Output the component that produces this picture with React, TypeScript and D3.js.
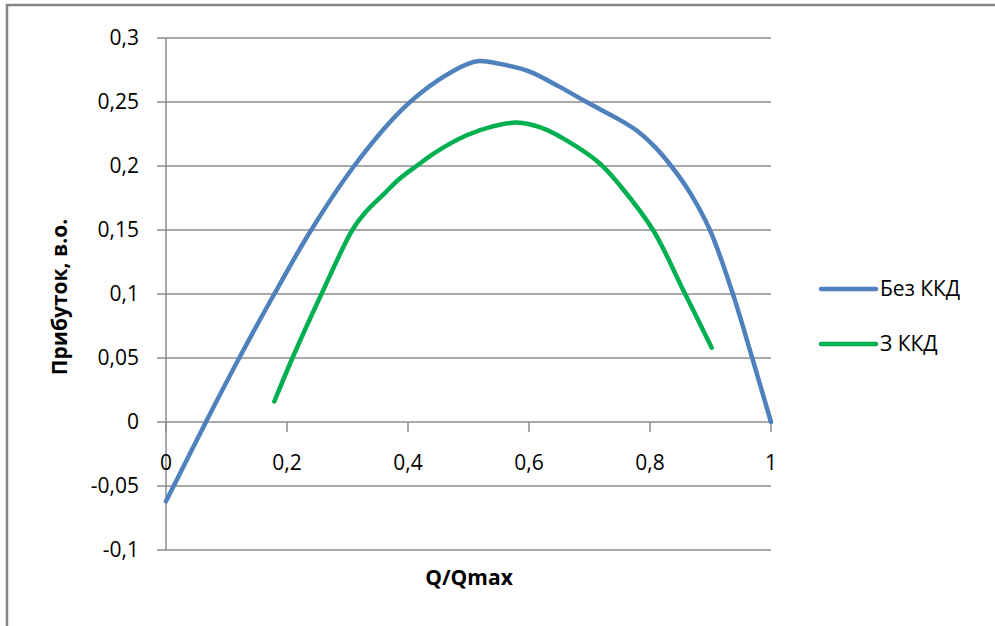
import React from "react";
import * as d3 from "d3";

const yTicks = [-0.1, -0.05, 0, 0.05, 0.1, 0.15, 0.2, 0.25, 0.3];
const yTickLabels = ["-0,1", "-0,05", "0", "0,05", "0,1", "0,15", "0,2", "0,25", "0,3"];
const xTicks = [0, 0.2, 0.4, 0.6, 0.8, 1];
const xTickLabels = ["0", "0,2", "0,4", "0,6", "0,8", "1"];

const seriesNames = ["Без ККД", "З ККД"];
const seriesColors = ["#4F81BD", "#00B050"];

const blueX = [0, 0.066, 0.121, 0.179, 0.24, 0.311, 0.39, 0.45, 0.5, 0.518, 0.55, 0.6, 0.65, 0.695, 0.75, 0.78, 0.81, 0.835, 0.865, 0.899, 0.937, 0.969, 1.0];
const blueY = [-0.062, 0, 0.05, 0.1, 0.15, 0.2, 0.244, 0.267, 0.28, 0.282, 0.28, 0.274, 0.262, 0.25, 0.236, 0.227, 0.214, 0.2, 0.18, 0.15, 0.1, 0.05, 0];

const greenX = [0.179, 0.209, 0.257, 0.308, 0.33, 0.36, 0.386, 0.414, 0.45, 0.497, 0.54, 0.58, 0.62, 0.662, 0.717, 0.75, 0.805, 0.854, 0.902];
const greenY = [0.016, 0.05, 0.1, 0.15, 0.164, 0.178, 0.19, 0.2, 0.212, 0.224, 0.231, 0.234, 0.23, 0.22, 0.202, 0.185, 0.15, 0.104, 0.058];

export default function App() {
  const x = d3.scaleLinear().domain([0, 1]).range([166, 771]);
  const y = d3.scaleLinear().domain([-0.1, 0.3]).range([550, 38]);
  const line = d3
    .line<[number, number]>()
    .x((d) => x(d[0]))
    .y((d) => y(d[1]))
    .curve(d3.curveCatmullRom.alpha(0.5));
  const blue: [number, number][] = blueX.map((v, i) => [v, blueY[i]]);
  const green: [number, number][] = greenX.map((v, i) => [v, greenY[i]]);
  const font = "'Open Sans', 'Noto Sans', sans-serif";
  const grid = "#8C8C8C";
  return (
    <svg
      width={995}
      height={626}
      style={{ position: "absolute", left: 0, top: 0, background: "#fff" }}
    >
      <rect x={7} y={5} width={1000} height={650} fill="#fff" stroke="#858585" strokeWidth={2.5} />
      {yTicks.map((t, i) => (
        <g key={"y" + i}>
          <line x1={157} x2={771} y1={y(t)} y2={y(t)} stroke={grid} strokeWidth={1.5} />
          <text
            x={139}
            y={y(t)}
            dy="0.35em"
            textAnchor="end"
            fontFamily={font}
            fontSize={21}
            fill="#000"
          >
            {yTickLabels[i]}
          </text>
        </g>
      ))}
      <line x1={x(0)} x2={x(0)} y1={y(0.3)} y2={y(-0.1)} stroke={grid} strokeWidth={1.5} />
      {xTicks.map((t, i) => (
        <g key={"x" + i}>
          <line x1={x(t)} x2={x(t)} y1={y(0)} y2={y(0) + 10} stroke={grid} strokeWidth={1.5} />
          <text
            x={x(t)}
            y={463}
            dy="0.35em"
            textAnchor="middle"
            fontFamily={font}
            fontSize={21}
            fill="#000"
          >
            {xTickLabels[i]}
          </text>
        </g>
      ))}
      <path d={line(blue) || ""} fill="none" stroke={seriesColors[0]} strokeWidth={4.5} strokeLinejoin="round" strokeLinecap="round" />
      <path d={line(green) || ""} fill="none" stroke={seriesColors[1]} strokeWidth={4.5} strokeLinejoin="round" strokeLinecap="round" />
      <text x={469} y={578} dy="0.35em" textAnchor="middle" fontFamily={font} fontSize={21} fontWeight="bold" fill="#000">
        Q/Qmax
      </text>
      <text
        transform="translate(60,297) rotate(-90)"
        dy="0.35em"
        textAnchor="middle"
        fontFamily={font}
        fontSize={21}
        fontWeight="bold"
        fill="#000"
      >
        Прибуток, в.о.
      </text>
      {seriesNames.map((n, i) => (
        <g key={"l" + i} transform={`translate(0, ${289 + i * 55})`}>
          <line x1={821} x2={876} y1={0} y2={0} stroke={seriesColors[i]} strokeWidth={4.5} strokeLinecap="round" />
          <text x={880} y={0} dy="0.35em" fontFamily={font} fontSize={21} fill="#000">
            {n}
          </text>
        </g>
      ))}
    </svg>
  );
}
